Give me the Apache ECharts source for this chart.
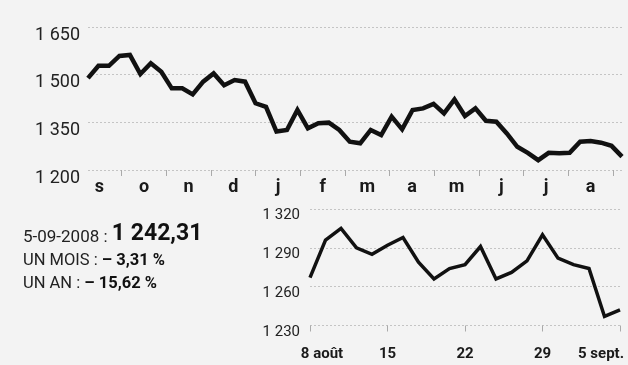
<!DOCTYPE html>
<html><head><meta charset="utf-8">
<script src="https://cdn.jsdelivr.net/npm/echarts@6/dist/echarts.min.js"></script>
<style>html,body{margin:0;padding:0;background:#f3f3f3}#c{width:628px;height:365px}</style>
</head><body><div id="c"></div>
<script>
// Year chart (weekly closes, Sept 2007 - 5 Sept 2008)
const months = ['s','o','n','d','j','f','m','a','m','j','j','a'];
const yearTicks = [1200, 1350, 1500, 1650];
const yearValues = [1489,1528,1528,1559,1562,1502,1536,1509,1457,1457,
                    1438,1478,1504,1467,1483,1478,1410,1399,1321,1326,
                    1389,1331,1347,1349,1326,1289,1284,1326,1310,1368,
                    1328,1389,1394,1408,1378,1422,1370,1394,1355,1352,
                    1315,1273,1254,1231,1254,1253,1254,1289,1291,1286,
                    1276,1242];
// Month chart (daily closes, 8 Aug - 5 Sept 2008)
const dayLabels = ['8 août','11','12','13','14','15','18','19','20','21','22',
                   '25','26','27','28','29','1','2','3','4','5 sept.'];
const dayValues = [1267,1296,1305,1290,1285,1292,1298,1279,1266,1274,1277,
                   1291,1266,1271,1280,1300,1282,1277,1274,1237,1242];
const dayTicks = [1230, 1260, 1290, 1320];
const headline = ['5-09-2008 : ', '1 242,31'];
const monthChange = ['UN MOIS : ', '– 3,31 %'];
const yearChange = ['UN AN : ', '– 15,62 %'];

const FONT = 'Roboto';
const gridLine = {show: true, lineStyle: {color: '#c4c4c4', type: [2, 2], width: 1}};
const fmt = (v) => String(v).replace(/^(\d)(\d{3})$/, '$1 $2');
const chart = echarts.init(document.getElementById('c'), null, {renderer: 'canvas'});
chart.setOption({
  backgroundColor: '#f3f3f3',
  animation: false,
  grid: [
    {left: 88, right: 6, top: 27, bottom: 195},
    {left: 77, right: 15, top: 27, bottom: 195},
    {left: 310, right: 8, top: 209, bottom: 39.5}
  ],
  xAxis: [
    {gridIndex: 0, type: 'value', min: 0, max: yearValues.length - 1,
     axisLine: {show: false}, axisTick: {show: false}, axisLabel: {show: false}, splitLine: {show: false}},
    {gridIndex: 1, type: 'category', data: months, boundaryGap: true,
     axisLine: {show: false},
     axisTick: {show: true, length: 6, interval: 0, lineStyle: {color: '#aaa', width: 1}},
     axisLabel: {margin: 8, fontFamily: FONT, fontSize: 18, fontWeight: 'bold', color: '#1a1a1a'},
     splitLine: {show: false}},
    {gridIndex: 2, type: 'category', data: dayLabels, boundaryGap: false,
     axisLine: {show: false},
     axisTick: {show: true, length: 6, interval: (i) => i % 5 === 0, lineStyle: {color: '#aaa', width: 1}},
     axisLabel: {margin: 21, interval: (i) => i % 5 === 0, color: '#1a1a1a',
       fontFamily: FONT, fontSize: 15, fontWeight: 'bold',
       formatter: (v, i) => i === 0 ? '{f|' + v + '}' : (i === dayLabels.length - 1 ? '{l|' + v + '}' : v),
       rich: {
         f: {fontFamily: FONT, fontSize: 15, fontWeight: 'bold', color: '#1a1a1a', padding: [0, 0, 0, 24]},
         l: {fontFamily: FONT, fontSize: 15, fontWeight: 'bold', color: '#1a1a1a', padding: [0, 38, 0, 0]}
       }},
     splitLine: {show: false}}
  ],
  yAxis: [
    {gridIndex: 0, type: 'value', min: yearTicks[0], max: yearTicks[yearTicks.length - 1], interval: 150,
     axisLine: {show: false}, axisTick: {show: false},
     axisLabel: {margin: 8, fontFamily: FONT, fontSize: 18, color: '#222', verticalAlign: 'top', lineHeight: 12,
       padding: [2, 0, 0, 0], formatter: fmt},
     splitLine: gridLine},
    {gridIndex: 1, type: 'value', show: false},
    {gridIndex: 2, type: 'value', min: dayTicks[0], max: dayTicks[dayTicks.length - 1], interval: 30,
     axisLine: {show: false}, axisTick: {show: false},
     axisLabel: {margin: 10, fontFamily: FONT, fontSize: 15, color: '#222', verticalAlign: 'top', lineHeight: 7,
       padding: [3, 0, 0, 0], formatter: fmt},
     splitLine: gridLine}
  ],
  series: [
    {type: 'line', xAxisIndex: 0, yAxisIndex: 0, data: yearValues.map((v, i) => [i, v]),
     symbol: 'none', lineStyle: {color: '#111', width: 4.5, join: 'miter'}},
    {type: 'line', xAxisIndex: 2, yAxisIndex: 2, data: dayValues,
     symbol: 'none', lineStyle: {color: '#111', width: 3.5, join: 'miter'}}
  ],
  graphic: [
    {type: 'text', left: 23, top: 223, style: {
      text: '{a|' + headline[0] + '}{b|' + headline[1] + '}',
      rich: {a: {fontFamily: FONT, fontSize: 17, fill: '#222', verticalAlign: 'bottom'},
             b: {fontFamily: FONT, fontSize: 23, fontWeight: 'bold', fill: '#111', verticalAlign: 'bottom'}}}},
    {type: 'text', left: 23, top: 252, style: {
      text: '{a|' + monthChange[0] + '}{b|' + monthChange[1] + '}',
      rich: {a: {fontFamily: FONT, fontSize: 16.5, fill: '#222'},
             b: {fontFamily: FONT, fontSize: 16.5, fontWeight: 'bold', fill: '#111'}}}},
    {type: 'text', left: 23, top: 275, style: {
      text: '{a|' + yearChange[0] + '}{b|' + yearChange[1] + '}',
      rich: {a: {fontFamily: FONT, fontSize: 16.5, fill: '#222'},
             b: {fontFamily: FONT, fontSize: 16.5, fontWeight: 'bold', fill: '#111'}}}}
  ]
});
</script></body></html>
